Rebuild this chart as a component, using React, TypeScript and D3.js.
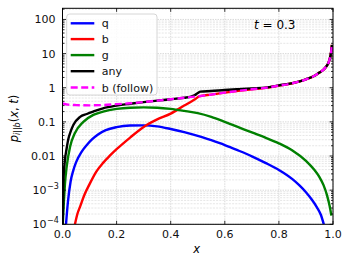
import React from 'react';
import * as d3 from 'd3';

const W = 352, H = 266;
const L = 62.5, R = 333, T = 8.3, B = 224.3;

const qX = [0.013, 0.02, 0.03, 0.04, 0.05, 0.07, 0.09, 0.11, 0.13, 0.16, 0.2, 0.25, 0.3, 0.35, 0.4, 0.45, 0.5, 0.55, 0.6, 0.65, 0.7, 0.75, 0.8, 0.85, 0.875, 0.9, 0.92, 0.94, 0.955, 0.966];
const qY = [1e-4, 4.5e-4, 0.0018, 0.0038, 0.0065, 0.013, 0.021, 0.031, 0.042, 0.057, 0.07, 0.078, 0.079, 0.074, 0.062, 0.05, 0.039, 0.029, 0.021, 0.0145, 0.0098, 0.0063, 0.0039, 0.0021, 0.0014, 0.00087, 0.00055, 0.00032, 0.00019, 0.0001];

const bX = [0.046, 0.055, 0.065, 0.08, 0.1, 0.125, 0.15, 0.175, 0.2, 0.25, 0.3, 0.35, 0.4, 0.45, 0.475, 0.49, 0.505, 0.55, 0.6, 0.65, 0.7, 0.75, 0.8, 0.85, 0.9, 0.93, 0.95, 0.965, 0.975, 0.983, 0.989, 0.993, 0.996];
const bY = [1e-4, 2e-4, 3.3e-4, 7e-4, 0.0015, 0.0035, 0.0063, 0.0102, 0.0158, 0.0347, 0.071, 0.118, 0.175, 0.3, 0.39, 0.46, 0.555, 0.63, 0.72, 0.81, 0.9, 0.99, 1.15, 1.35, 1.75, 2.2, 2.8, 3.4, 4.2, 5.3, 7.5, 11, 18];

const gX = [0.001, 0.0055, 0.009, 0.0155, 0.028, 0.046, 0.077, 0.114, 0.15, 0.2, 0.25, 0.3, 0.35, 0.4, 0.45, 0.5, 0.55, 0.6, 0.65, 0.7, 0.75, 0.8, 0.85, 0.9, 0.93, 0.95, 0.965, 0.978, 0.988, 0.994];
const gY = [1e-4, 5.2e-4, 0.0015, 0.0049, 0.0187, 0.047, 0.1, 0.16, 0.2, 0.24, 0.26, 0.265, 0.26, 0.24, 0.21, 0.18, 0.14, 0.10, 0.07, 0.049, 0.0345, 0.0235, 0.0145, 0.0072, 0.004, 0.0024, 0.0014, 7e-4, 3.3e-4, 1.8e-4];

const anyX = [0.0005, 0.003, 0.009, 0.015, 0.021, 0.03, 0.04, 0.065, 0.09, 0.114, 0.15, 0.2, 0.25, 0.3, 0.35, 0.4, 0.45, 0.475, 0.49, 0.5, 0.51, 0.55, 0.6, 0.65, 0.7, 0.75, 0.8, 0.85, 0.9, 0.93, 0.95, 0.965, 0.975, 0.983, 0.989, 0.993, 0.996];
const anyY = [1e-4, 0.0016, 0.0076, 0.016, 0.03, 0.052, 0.081, 0.14, 0.17, 0.2, 0.25, 0.3, 0.34, 0.38, 0.42, 0.46, 0.51, 0.55, 0.61, 0.7, 0.77, 0.8, 0.86, 0.91, 0.96, 1.01, 1.17, 1.37, 1.77, 2.2, 2.8, 3.4, 4.2, 5.3, 7.5, 11, 18];

const fX = [0, 0.02, 0.05, 0.1, 0.15, 0.2, 0.25, 0.3, 0.35, 0.4, 0.45, 0.5, 0.55, 0.6, 0.65, 0.7, 0.75, 0.8, 0.85, 0.9, 0.93, 0.95, 0.965, 0.975, 0.983, 0.989, 0.993, 0.996];
const fY = [0.35, 0.32, 0.31, 0.305, 0.31, 0.33, 0.35, 0.38, 0.42, 0.46, 0.51, 0.56, 0.63, 0.72, 0.81, 0.9, 0.99, 1.15, 1.35, 1.75, 2.2, 2.8, 3.4, 4.2, 5.3, 7.5, 11, 18];

const xTicks = [0, 0.2, 0.4, 0.6, 0.8, 1.0];
const xTickLabels = ['0.0', '0.2', '0.4', '0.6', '0.8', '1.0'];
const yTicks = [1e-4, 1e-3, 0.01, 0.1, 1, 10, 100];
const yTickLabels: [string, string | null][] = [['10', '−4'], ['10', '−3'], ['0.01', null], ['0.1', null], ['1', null], ['10', null], ['100', null]];

const series = [
  { name: 'q', xs: qX, ys: qY, color: '#0000ff', dash: null as string | null },
  { name: 'b', xs: bX, ys: bY, color: '#ff0000', dash: null },
  { name: 'g', xs: gX, ys: gY, color: '#008000', dash: null },
  { name: 'any', xs: anyX, ys: anyY, color: '#000000', dash: null },
  { name: 'b (follow)', xs: fX, ys: fY, color: '#ff00ff', dash: '7,3.5' },
];

const FONT = 'DejaVu Sans';

export default function App() {
  const x = d3.scaleLinear().domain([0, 1]).range([L, R]);
  const y = d3.scaleLog().domain([1e-4, 212]).range([B, T]);
  const line = d3.line<[number, number]>().x(d => x(d[0])).y(d => y(d[1])).curve(d3.curveMonotoneX);

  const minor: number[] = [];
  for (let e = -4; e <= 2; e++) {
    for (let k = 2; k <= 9; k++) {
      const v = k * Math.pow(10, e);
      if (v < 212) minor.push(v);
    }
  }

  const legendYs = [23.3, 39.1, 55.1, 71.2, 87.5];

  return (
    <svg width={W} height={H} style={{ position: 'absolute', left: 0, top: 0 }} fontFamily={FONT}>
      <defs>
        <clipPath id="plot"><rect x={L} y={T} width={R - L} height={B - T} /></clipPath>
      </defs>
      <rect x={0} y={0} width={W} height={H} fill="white" />
      {/* grid */}
      <g stroke="#d0d0d0" strokeWidth={0.8}>
        {minor.map((v, i) => <line key={'mg' + i} x1={L} x2={R} y1={y(v)} y2={y(v)} strokeDasharray="2,1.2" stroke="#e0e0e0" />)}
        {yTicks.map((v, i) => <line key={'yg' + i} x1={L} x2={R} y1={y(v)} y2={y(v)} strokeDasharray="1.5,1" />)}
        {xTicks.map((v, i) => <line key={'xg' + i} x1={x(v)} x2={x(v)} y1={T} y2={B} strokeDasharray="1.5,1" />)}
      </g>
      {/* curves */}
      <g clipPath="url(#plot)" fill="none">
        {series.map(s => (
          <path key={s.name} d={line(s.xs.map((xv, i) => [xv, s.ys[i]] as [number, number])) || ''}
            stroke={s.color} strokeWidth={2.4} strokeDasharray={s.dash || undefined} strokeLinejoin="round" />
        ))}
      </g>
      {/* ticks */}
      <g stroke="black" strokeWidth={0.8}>
        {xTicks.map((v, i) => (
          <g key={'xt' + i}>
            <line x1={x(v)} x2={x(v)} y1={B} y2={B - 3.5} />
            <line x1={x(v)} x2={x(v)} y1={T} y2={T + 3.5} />
          </g>
        ))}
        {yTicks.map((v, i) => (
          <g key={'yt' + i}>
            <line x1={L} x2={L + 3.5} y1={y(v)} y2={y(v)} />
            <line x1={R} x2={R - 3.5} y1={y(v)} y2={y(v)} />
          </g>
        ))}
        {minor.map((v, i) => (
          <g key={'ymt' + i}>
            <line x1={L} x2={L + 2} y1={y(v)} y2={y(v)} />
            <line x1={R} x2={R - 2} y1={y(v)} y2={y(v)} />
          </g>
        ))}
      </g>
      <rect x={L} y={T} width={R - L} height={B - T} fill="none" stroke="black" strokeWidth={1} />
      {/* tick labels */}
      <g fontSize={11} fill="#111">
        {xTicks.map((v, i) => (
          <text key={'xl' + i} x={x(v)} y={238.3} textAnchor="middle">{xTickLabels[i]}</text>
        ))}
        {yTicks.map((v, i) => {
          const [base, sup] = yTickLabels[i];
          return sup ? (
            <g key={'yl' + i}>
              <text x={46.5} y={y(v) + 4} textAnchor="end">{base}</text>
              <text x={47} y={y(v) - 1} fontSize={8}>{sup}</text>
            </g>
          ) : (
            <text key={'yl' + i} x={55.5} y={y(v) + 4} textAnchor="end">{base}</text>
          );
        })}
      </g>
      {/* axis labels */}
      <text x={196.7} y={253} fontSize={11.5} fontStyle="italic" textAnchor="middle">x</text>
      <text transform={`translate(17.5,118.5) rotate(-90)`} fontSize={11.5} textAnchor="middle">
        <tspan fontStyle="italic">p</tspan>
        <tspan fontSize={8} dy={2.5} fontStyle="italic">i</tspan>
        <tspan fontSize={8}>||</tspan>
        <tspan fontSize={8} fontStyle="italic">b</tspan>
        <tspan dy={-2.5}>(</tspan>
        <tspan fontStyle="italic">x</tspan>
        <tspan>, </tspan>
        <tspan fontStyle="italic">t</tspan>
        <tspan>)</tspan>
      </text>
      {/* annotation */}
      <text x={254} y={29} fontSize={12}>
        <tspan fontStyle="italic">t</tspan>
        <tspan> = 0.3</tspan>
      </text>
      {/* legend */}
      <rect x={66.7} y={14} width={90.3} height={81} rx={3} fill="white" fillOpacity={0.85} stroke="#cccccc" strokeWidth={0.8} />
      {series.map((s, i) => (
        <g key={'lg' + s.name}>
          <line x1={70.7} x2={94.3} y1={legendYs[i]} y2={legendYs[i]} stroke={s.color} strokeWidth={2.4} strokeDasharray={s.dash || undefined} />
          <text x={101.7} y={legendYs[i] + 4} fontSize={11} fill="#111">{s.name}</text>
        </g>
      ))}
    </svg>
  );
}
